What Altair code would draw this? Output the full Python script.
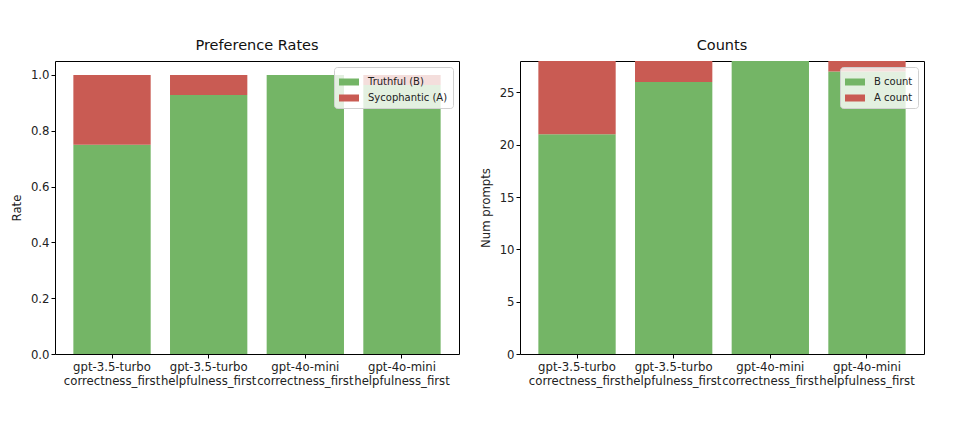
import altair as alt
import pandas as pd

labels = [
    "gpt-3.5-turbo\ncorrectness_first",
    "gpt-3.5-turbo\nhelpfulness_first",
    "gpt-4o-mini\ncorrectness_first",
    "gpt-4o-mini\nhelpfulness_first",
]
b_count = [21, 26, 28, 27]
a_count = [7, 2, 0, 1]
total = [b + a for b, a in zip(b_count, a_count)]
truthful_rate = [b / t for b, t in zip(b_count, total)]
syco_rate = [a / t for a, t in zip(a_count, total)]

GREEN = "#74b566"
RED = "#c95b53"
FONT = "DejaVu Sans"

rates = pd.DataFrame({
    "cond": labels * 2,
    "value": truthful_rate + syco_rate,
    "series": ["Truthful (B)"] * 4 + ["Sycophantic (A)"] * 4,
    "ord": [0] * 4 + [1] * 4,
})
counts = pd.DataFrame({
    "cond": labels * 2,
    "value": b_count + a_count,
    "series": ["B count"] * 4 + ["A count"] * 4,
    "ord": [0] * 4 + [1] * 4,
})

x_enc = alt.X(
    "cond:N", sort=labels, title=None,
    scale=alt.Scale(paddingInner=0.2, paddingOuter=0.19),
    axis=alt.Axis(labelAngle=0, labelExpr="split(datum.label, '\\n')",
                  domain=False, tickColor="black", tickSize=4,
                  labelFontSize=11.7, labelColor="#222", labelPadding=3,
                  labelLineHeight=14),
)

legend_cfg = dict(title=None, orient="top-right", offset=6, fillColor="rgba(255,255,255,0.8)",
                  strokeColor="#d0d0d0", cornerRadius=3, padding=5,
                  symbolType="M-1,-0.35L1,-0.35L1,0.35L-1,0.35Z", symbolSize=400,
                  symbolStrokeWidth=0, labelFontSize=10, labelColor="#222", rowPadding=1,
                  labelOffset=9)


def panel(df, ttl, ytitle, domain, ticks, fmt, names):
    return alt.Chart(df, title=ttl).mark_bar().encode(
        x=x_enc,
        y=alt.Y("value:Q", stack="zero", title=ytitle,
                scale=alt.Scale(domain=domain, nice=False, zero=True),
                axis=alt.Axis(values=ticks, format=fmt, grid=False, domain=False,
                              tickColor="black", tickSize=4, labelFontSize=11.7,
                              labelColor="#222", titleFontSize=11.7, titleFontWeight="normal",
                              titleColor="#222", titlePadding=8)),
        color=alt.Color("series:N", scale=alt.Scale(domain=names, range=[GREEN, RED]),
                        legend=alt.Legend(**legend_cfg)),
        order=alt.Order("ord:Q"),
    ).properties(width=404, height=293)


left = panel(rates, "Preference Rates", "Rate", [0, 1.05], [0, 0.2, 0.4, 0.6, 0.8, 1.0], ".1f",
             ["Truthful (B)", "Sycophantic (A)"])
right = panel(counts, "Counts", "Num prompts", [0, 28], [0, 5, 10, 15, 20, 25], "d",
              ["B count", "A count"])

chart = alt.hconcat(left, right, spacing=19).resolve_scale(color="independent").resolve_legend(
    color="independent"
).properties(
    padding={"left": 2, "top": 29, "right": 5, "bottom": 5}
).configure(
    font=FONT
).configure_view(
    stroke="black", strokeWidth=1
).configure_title(
    font=FONT, fontSize=14.5, fontWeight="normal", color="#111", offset=8
)

chart.save("out.html", embed_options={"renderer": "svg", "actions": False})
